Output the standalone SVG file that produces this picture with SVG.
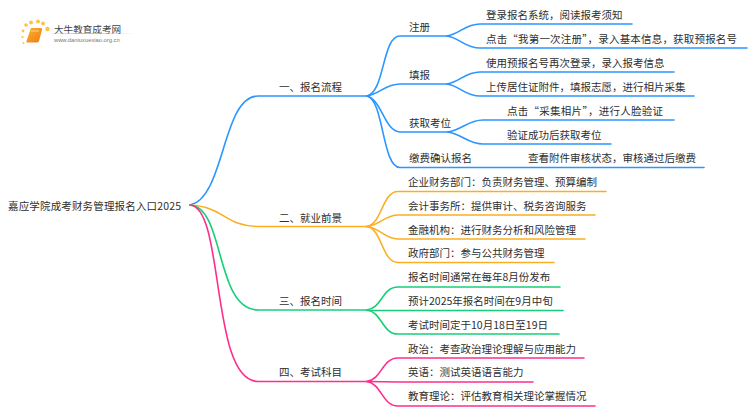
<svg xmlns="http://www.w3.org/2000/svg" width="750" height="410" viewBox="0 0 750 410">
<defs>
<linearGradient id="rule"><stop offset="0" stop-color="#bbb" stop-opacity=".1"/><stop offset=".4" stop-color="#bbb"/><stop offset="1" stop-color="#bbb" stop-opacity="0"/></linearGradient>
<linearGradient id="book" x1="0" y1="0" x2="1" y2="1"><stop offset="0" stop-color="#fbb030"/><stop offset="1" stop-color="#ee7d12"/></linearGradient>
</defs>
<style>
text{font-family:"Noto Sans CJK SC","Liberation Sans",sans-serif;font-size:10.5px;fill:#2e2e2e}
.c{fill:none;stroke-width:1.6;stroke-linecap:round}
.b{stroke:#2a96ff}.o{stroke:#fbae22}.g{stroke:#17cf79}.p{stroke:#ff2e8c}
.d{fill:#fcc24a}
</style>
<rect width="750" height="410" fill="#fff"/>
<g id="logo">
<circle class="d" cx="23" cy="31" r="1.4"/><circle class="d" cx="26" cy="25" r="1.8"/><circle class="d" cx="31" cy="22.500" r="2"/><circle class="d" cx="38" cy="21.500" r="2"/><circle class="d" cx="43" cy="23.500" r="2"/><circle class="d" cx="47.500" cy="29" r="2.200"/><circle class="d" cx="22.500" cy="37" r="1.100"/><circle class="d" cx="23.500" cy="43" r="1"/>
<path d="M31 28H41Q42.500 28 42 30L39 41Q38.500 42.500 37 42.500H27Q26 42.500 26.500 41Z" fill="url(#book)"/>
<path d="M31 31H39" stroke="#fde0a0" stroke-width=".8"/>
<text x="54" y="33" style="font-size:9.600px;fill:#444">大牛教育成考网</text>
<rect x="50" y="33" width="85" height="1" fill="url(#rule)"/>
<text x="54" y="42" style="font-size:5.800px;fill:#777;font-family:'Liberation Sans',sans-serif">www.daniuxuexiao.org.cn</text>
</g>
<g id="connectors">
<g class="c b">
<path d="M190 205C225 198 222 96 258 96H367"/>
<path d="M367 96C385 92 382 36 400 36H447"/>
<path d="M367 96C380 94 385 84 400 84H447"/>
<path d="M367 96C382 100 385 132 400 132H448"/>
<path d="M367 96C384 100 382 167.500 400 167.500H704"/>
<path d="M447 36C460 34 465 24 480 24H632"/>
<path d="M447 36C460 38 465 48 480 48H747"/>
<path d="M447 84C460 82 465 72 480 72H674"/>
<path d="M447 84C460 86 465 96 480 96H694"/>
<path d="M448 132C462 130 468 120 483 120H674"/>
<path d="M448 132C462 134 468 144 483 144H611"/>
</g>
<g class="c o">
<path d="M190 205C225 207 225 226.500 258 226.500H367"/>
<path d="M367 226.500C382 224 382 191.500 398 191.500H606"/>
<path d="M367 226.500C380 225 385 215 398 215H595"/>
<path d="M367 226.500C380 228 385 239 398 239H585"/>
<path d="M367 226.500C382 229 382 262.500 398 262.500H554"/>
</g>
<g class="c g">
<path d="M190 205C225 207 215 310 258 310H367"/>
<path d="M367 310C382 308 382 287 398 287H560"/>
<path d="M367 310.500H563"/>
<path d="M367 310C382 312 382 334 398 334H559"/>
</g>
<g class="c p">
<path d="M190 205C225 207 210 381.500 258 381.500H367"/>
<path d="M367 381.500C382 379 382 358 398 358H584"/>
<path d="M367 381.500L398 382H533"/>
<path d="M367 381.500C382 384 382 406 398 406H595"/>
</g>
</g>
<g id="root"><text x="8" y="210" textLength="173">嘉应学院成考财务管理报名入口2025</text></g>
<g id="n1"><text x="279" y="91">一、报名流程</text></g>
<g id="n1-1"><text x="409" y="31">注册</text></g>
<g id="n1-1-1"><text x="486" y="19">登录报名系统，阅读报考须知</text></g>
<g id="n1-1-2"><text x="486" y="43" textLength="251">点击“我第一次注册”，录入基本信息，获取预报名号</text></g>
<g id="n1-2"><text x="409" y="79">填报</text></g>
<g id="n1-2-1"><text x="486" y="67">使用预报名号再次登录，录入报考信息</text></g>
<g id="n1-2-2"><text x="486" y="91">上传居住证附件，填报志愿，进行相片采集</text></g>
<g id="n1-3"><text x="409" y="127">获取考位</text></g>
<g id="n1-3-1"><text x="507" y="115" textLength="156">点击“采集相片”，进行人脸验证</text></g>
<g id="n1-3-2"><text x="507" y="139">验证成功后获取考位</text></g>
<g id="n1-4"><text x="409" y="162">缴费确认报名</text></g>
<g id="n1-4-1"><text x="528" y="162">查看附件审核状态，审核通过后缴费</text></g>
<g id="n2"><text x="279" y="222">二、就业前景</text></g>
<g id="n2-1"><text x="408" y="186">企业财务部门：负责财务管理、预算编制</text></g>
<g id="n2-2"><text x="408" y="210">会计事务所：提供审计、税务咨询服务</text></g>
<g id="n2-3"><text x="408" y="234">金融机构：进行财务分析和风险管理</text></g>
<g id="n2-4"><text x="408" y="257">政府部门：参与公共财务管理</text></g>
<g id="n3"><text x="279" y="305">三、报名时间</text></g>
<g id="n3-1"><text x="408" y="281">报名时间通常在每年8月份发布</text></g>
<g id="n3-2"><text x="408" y="305">预计2025年报名时间在9月中旬</text></g>
<g id="n3-3"><text x="408" y="329">考试时间定于10月18日至19日</text></g>
<g id="n4"><text x="279" y="376">四、考试科目</text></g>
<g id="n4-1"><text x="408" y="353">政治：考查政治理论理解与应用能力</text></g>
<g id="n4-2"><text x="408" y="376">英语：测试英语语言能力</text></g>
<g id="n4-3"><text x="408" y="400">教育理论：评估教育相关理论掌握情况</text></g>
</svg>
